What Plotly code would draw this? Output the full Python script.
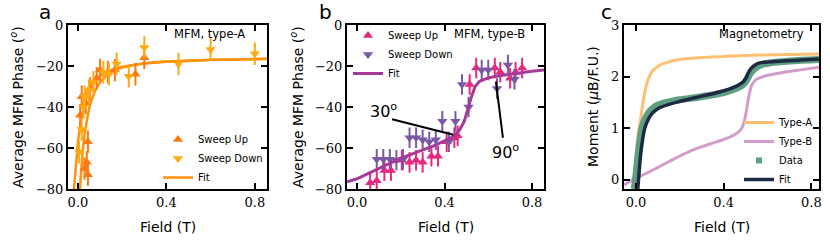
import plotly.graph_objects as go

# ---------------- Panel a: MFM type-A ----------------
a_up_x = [0.010, 0.017, 0.030, 0.035, 0.040, 0.045, 0.045, 0.054, 0.085, 0.100, 0.135, 0.167, 0.260, 0.300]
a_up_y = [-44, -35, -70, -38, -67, -57, -73, -31, -26, -22, -23, -22, -24, -16]
a_down_x = [0.005, 0.017, 0.025, 0.030, 0.050, 0.070, 0.115, 0.140, 0.175, 0.230, 0.300, 0.455, 0.600, 0.800]
a_down_y = [-62, -51, -40, -35, -32, -28, -23, -24, -19, -25, -11, -19, -12, -14]
a_err = 5.5

a_fit1_x = [-0.018, -0.01, 0.0, 0.01, 0.02, 0.03, 0.04, 0.06, 0.08, 0.10, 0.13, 0.16, 0.20, 0.25, 0.30, 0.40, 0.50, 0.60, 0.70, 0.855]
a_fit1_y = [-80, -68, -57, -49, -43, -38.5, -35, -30, -27, -25, -23, -21.5, -20.3, -19.3, -18.6, -17.8, -17.3, -17.0, -16.8, -16.5]
a_fit2_x = [0.009, 0.015, 0.02, 0.03, 0.04, 0.05, 0.06, 0.08, 0.10, 0.13, 0.16, 0.20, 0.25, 0.30, 0.40, 0.50, 0.60, 0.855]
a_fit2_y = [-80, -70, -63, -53, -46, -41, -37, -31.5, -28, -24.5, -22.5, -20.8, -19.6, -18.8, -17.9, -17.4, -17.1, -16.6]

# ---------------- Panel b: MFM type-B ----------------
b_up_x = [0.06, 0.09, 0.125, 0.155, 0.205, 0.24, 0.27, 0.30, 0.34, 0.37, 0.41, 0.445, 0.46, 0.515, 0.545, 0.63, 0.655, 0.70, 0.725, 0.755]
b_up_y = [-77, -76, -71, -71, -66, -67, -66, -67, -64, -64, -57, -55, -54, -29, -21, -21, -23, -26, -23, -21]
b_down_x = [0.09, 0.12, 0.15, 0.18, 0.21, 0.24, 0.27, 0.30, 0.33, 0.36, 0.39, 0.42, 0.45, 0.48, 0.51, 0.57, 0.60, 0.64, 0.69, 0.72]
b_down_y = [-65.5, -65.5, -65.5, -66, -65.5, -55, -55, -56, -57, -56, -47, -57, -47, -29, -40, -22, -22, -31, -19.5, -26.5]
b_err = 5.0

b_fit_x = [-0.046, 0.0, 0.05, 0.1, 0.15, 0.2, 0.25, 0.3, 0.35, 0.4, 0.43, 0.45, 0.47, 0.49, 0.5, 0.51, 0.52, 0.53, 0.54, 0.56, 0.58, 0.6, 0.65, 0.7, 0.75, 0.8, 0.855]
b_fit_y = [-76.5, -75, -72.5, -70, -67.5, -65, -63, -61, -59, -56.5, -55, -53.5, -51, -47, -44, -40, -36, -32.5, -30, -27.5, -26.5, -25.8, -24.8, -24, -23.2, -22.6, -22]

# annotation lines (30 deg / 90 deg)
ann30_x = [0.16, 0.44]
ann30_y = [-46, -53.5]
ann90_x = [0.635, 0.667]
ann90_y = [-27.6, -55]

# ---------------- Panel c: Magnetometry ----------------
c_A_x = [-0.01, 0.0, 0.01, 0.02, 0.03, 0.04, 0.05, 0.06, 0.08, 0.1, 0.13, 0.16, 0.2, 0.3, 0.4, 0.5, 0.6, 0.7, 0.835]
c_A_y = [-0.15, 0.45, 0.9, 1.15, 1.45, 1.7, 1.88, 2.0, 2.13, 2.2, 2.26, 2.3, 2.33, 2.37, 2.39, 2.41, 2.42, 2.43, 2.44]

c_B_x = [-0.055, -0.03, 0.0, 0.05, 0.1, 0.15, 0.2, 0.25, 0.3, 0.35, 0.4, 0.43, 0.46, 0.48, 0.49, 0.5, 0.51, 0.52, 0.53, 0.55, 0.58, 0.62, 0.67, 0.75, 0.835]
c_B_y = [-0.1, -0.04, 0.03, 0.13, 0.24, 0.35, 0.46, 0.56, 0.64, 0.71, 0.78, 0.83, 0.9, 0.98, 1.08, 1.25, 1.5, 1.72, 1.85, 1.95, 2.0, 2.04, 2.08, 2.13, 2.18]

c_data_x = [-0.008, 0.0, 0.01, 0.02, 0.03, 0.05, 0.07, 0.1, 0.15, 0.2, 0.3, 0.4, 0.45, 0.48, 0.5, 0.52, 0.54, 0.57, 0.62, 0.7, 0.835]
c_data_y = [-0.18, 0.1, 0.5, 0.82, 1.05, 1.25, 1.36, 1.45, 1.51, 1.55, 1.61, 1.69, 1.76, 1.82, 1.9, 2.05, 2.15, 2.23, 2.27, 2.3, 2.33]

c_fit_x = [0.008, 0.015, 0.02, 0.03, 0.04, 0.05, 0.07, 0.09, 0.11, 0.15, 0.2, 0.3, 0.38, 0.44, 0.47, 0.49, 0.5, 0.51, 0.52, 0.53, 0.545, 0.56, 0.6, 0.67, 0.75, 0.835]
c_fit_y = [-0.18, 0.2, 0.45, 0.78, 1.0, 1.12, 1.27, 1.35, 1.4, 1.46, 1.52, 1.62, 1.7, 1.78, 1.84, 1.9, 1.96, 2.05, 2.13, 2.18, 2.23, 2.26, 2.28, 2.3, 2.32, 2.34]

x_ticks = [0.0, 0.4, 0.8]
x_tick_labels = ["0.0", "0.4", "0.8"]
phase_ticks = [-80, -60, -40, -20, 0]
moment_ticks = [0, 1, 2, 3]

# colours
A_UP = "#FA7A12"
A_DOWN = "#FFAA12"
A_FIT = "#FF930F"
B_UP = "#E8287E"
B_DOWN = "#7A58A4"
B_FIT = "#A63A97"
C_A = "#FFC072"
C_B = "#D49CCB"
C_DATA = "#5E9F80"
C_FIT = "#1E2944"

fig = go.Figure()

# ---- panel a traces ----
fig.add_trace(go.Scatter(x=a_fit1_x, y=a_fit1_y, mode="lines", line=dict(color=A_FIT, width=2.5),
                         name="Fit", legend="legend", legendrank=3, xaxis="x", yaxis="y"))
fig.add_trace(go.Scatter(x=a_fit2_x, y=a_fit2_y, mode="lines", line=dict(color=A_FIT, width=2.5),
                         showlegend=False, xaxis="x", yaxis="y"))
fig.add_trace(go.Scatter(x=a_up_x, y=a_up_y, mode="markers", name="Sweep Up", legend="legend", legendrank=1,
                         marker=dict(symbol="triangle-up", size=9, color=A_UP),
                         error_y=dict(type="constant", value=a_err, color=A_UP, thickness=2, width=0),
                         error_x=dict(type="constant", value=0.008, color=A_UP, thickness=2, width=0),
                         xaxis="x", yaxis="y"))
fig.add_trace(go.Scatter(x=a_down_x, y=a_down_y, mode="markers", name="Sweep Down", legend="legend", legendrank=2,
                         marker=dict(symbol="triangle-down", size=9, color=A_DOWN),
                         error_y=dict(type="constant", value=a_err, color=A_DOWN, thickness=2, width=0),
                         error_x=dict(type="constant", value=0.008, color=A_DOWN, thickness=2, width=0),
                         xaxis="x", yaxis="y"))

# ---- panel b traces ----
fig.add_trace(go.Scatter(x=b_up_x, y=b_up_y, mode="markers", name="Sweep Up", legend="legend2", legendrank=1,
                         marker=dict(symbol="triangle-up", size=9, color=B_UP),
                         error_y=dict(type="constant", value=b_err, color=B_UP, thickness=2, width=0),
                         error_x=dict(type="constant", value=0.008, color=B_UP, thickness=2, width=0),
                         xaxis="x2", yaxis="y2"))
fig.add_trace(go.Scatter(x=b_down_x, y=b_down_y, mode="markers", name="Sweep Down", legend="legend2", legendrank=2,
                         marker=dict(symbol="triangle-down", size=9, color=B_DOWN),
                         error_y=dict(type="constant", value=b_err, color=B_DOWN, thickness=2, width=0),
                         error_x=dict(type="constant", value=0.008, color=B_DOWN, thickness=2, width=0),
                         xaxis="x2", yaxis="y2"))
fig.add_trace(go.Scatter(x=b_fit_x, y=b_fit_y, mode="lines", line=dict(color=B_FIT, width=3),
                         name="Fit", legend="legend2", legendrank=3, xaxis="x2", yaxis="y2"))
fig.add_trace(go.Scatter(x=ann30_x, y=ann30_y, mode="lines", line=dict(color="black", width=2),
                         showlegend=False, xaxis="x2", yaxis="y2", hoverinfo="skip"))
fig.add_trace(go.Scatter(x=ann90_x, y=ann90_y, mode="lines", line=dict(color="black", width=2),
                         showlegend=False, xaxis="x2", yaxis="y2", hoverinfo="skip"))

# ---- panel c traces ----
fig.add_trace(go.Scatter(x=c_A_x, y=c_A_y, mode="lines", line=dict(color=C_A, width=3, shape="spline"),
                         name="Type-A", legend="legend3", legendrank=1, xaxis="x3", yaxis="y3"))
fig.add_trace(go.Scatter(x=c_B_x, y=c_B_y, mode="lines", line=dict(color=C_B, width=3, shape="spline"),
                         name="Type-B", legend="legend3", legendrank=2, xaxis="x3", yaxis="y3"))
fig.add_trace(go.Scatter(x=c_data_x, y=c_data_y, mode="lines", line=dict(color=C_DATA, width=7, shape="spline"),
                         showlegend=False, xaxis="x3", yaxis="y3"))
fig.add_trace(go.Scatter(x=[None], y=[None], mode="markers", marker=dict(symbol="square", size=6, color=C_DATA),
                         name="Data", legend="legend3", legendrank=3, xaxis="x3", yaxis="y3"))
fig.add_trace(go.Scatter(x=c_fit_x, y=c_fit_y, mode="lines", line=dict(color=C_FIT, width=3.5, shape="spline"),
                         name="Fit", legend="legend3", legendrank=4, xaxis="x3", yaxis="y3"))

W, H = 830, 245
def px(v):
    return v / W
def py(v):
    return 1 - v / H

top, bottom = 25, 189
ydom = [py(bottom), py(top)]

axis_common = dict(showline=True, linewidth=2, linecolor="black", mirror="ticks", ticks="inside",
                   ticklen=6, tickwidth=2, tickcolor="black", showgrid=False, zeroline=False,
                   automargin=False,
                   tickfont=dict(family="DejaVu Serif", size=13, color="black"))

leg_common = dict(xanchor="left", yanchor="top", bgcolor="rgba(0,0,0,0)", font=dict(size=10),
                  itemwidth=30, tracegroupgap=0, borderwidth=0)

fig.update_layout(
    width=W, height=H, margin=dict(l=0, r=0, t=0, b=0, pad=0, autoexpand=False),
    paper_bgcolor="white", plot_bgcolor="white",
    font=dict(family="DejaVu Sans", color="black"),
    xaxis=dict(domain=[px(68), px(267)], range=[-0.045, 0.855], tickvals=x_ticks, ticktext=x_tick_labels,
               anchor="y", **axis_common),
    yaxis=dict(domain=ydom, range=[-80, 0], tickvals=phase_ticks, anchor="x", **axis_common),
    xaxis2=dict(domain=[px(347), px(544)], range=[-0.046, 0.855], tickvals=x_ticks, ticktext=x_tick_labels,
                anchor="y2", **axis_common),
    yaxis2=dict(domain=ydom, range=[-80, 0], tickvals=phase_ticks, anchor="x2", **axis_common),
    xaxis3=dict(domain=[px(624), px(819)], range=[-0.055, 0.835], tickvals=x_ticks, ticktext=x_tick_labels,
                anchor="y3", **axis_common),
    yaxis3=dict(domain=ydom, range=[-0.18, 3.0], tickvals=moment_ticks, anchor="x3", **axis_common),
    legend=dict(x=px(158), y=py(125), **leg_common),
    legend2=dict(x=px(348), y=py(21), **leg_common),
    legend3=dict(x=px(739), y=py(108), **leg_common),
    showlegend=True,
)

ann = []
# panel letters
for letter, x in [("a", 45), ("b", 325), ("c", 606)]:
    ann.append(dict(text=letter, x=px(x), y=py(12), xref="paper", yref="paper", showarrow=False,
                    font=dict(size=20, family="DejaVu Sans"), xanchor="center", yanchor="middle"))
# x titles
for x0, x1 in [(68, 267), (347, 544), (624, 819)]:
    ann.append(dict(text="Field (T)", x=px((x0 + x1) / 2), y=py(227), xref="paper", yref="paper",
                    showarrow=False, font=dict(size=14), xanchor="center", yanchor="middle"))
# y titles
for x, t in [(17, "Average MFM Phase (<sup><i>o</i></sup>)"), (297, "Average MFM Phase (<sup><i>o</i></sup>)"),
             (593, "Moment (<i>μ</i>B/F.U.)")]:
    ann.append(dict(text=t, x=px(x), y=py(107), xref="paper", yref="paper", showarrow=False,
                    font=dict(size=14), textangle=-90, xanchor="center", yanchor="middle"))
# in-plot labels
for x, t in [(247, "MFM, type-A"), (527, "MFM, type-B"), (806, "Magnetometry")]:
    ann.append(dict(text=t, x=px(x), y=py(34), xref="paper", yref="paper", showarrow=False,
                    font=dict(size=11.5), xanchor="right", yanchor="middle"))
# angle labels
ann.append(dict(text="30<sup>o</sup>", x=px(383), y=py(110), xref="paper", yref="paper", showarrow=False,
                font=dict(size=16), xanchor="center", yanchor="middle"))
ann.append(dict(text="90<sup>o</sup>", x=px(505), y=py(151), xref="paper", yref="paper", showarrow=False,
                font=dict(size=16), xanchor="center", yanchor="middle"))
fig.update_layout(annotations=ann)

fig.write_html("out.html", config={"displayModeBar": False},
               post_script="document.body.style.margin='0';document.body.style.overflow='hidden';")
